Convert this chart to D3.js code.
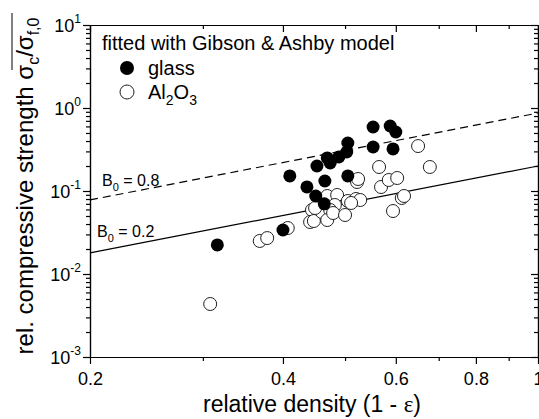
<!DOCTYPE html>
<html><head><meta charset="utf-8">
<script src="https://cdn.jsdelivr.net/npm/d3@7"></script>
<style>
body{margin:0;background:#fff}
svg{display:block}
text{font-family:"Liberation Sans",Arial,sans-serif;fill:#000}
</style>
</head><body>
<svg id="c" width="539" height="419"></svg>
<script>
// ---- data ----
const glassX = [0.316,0.400,0.410,0.436,0.450,0.464,0.465,0.452,0.469,0.489,0.474,0.505,0.503,0.505,0.553,0.553,0.588,0.600,0.594];
const glassY = [0.0224,0.0339,0.152,0.112,0.087,0.070,0.132,0.200,0.250,0.257,0.218,0.379,0.295,0.152,0.590,0.339,0.607,0.514,0.321];
const aluX = [0.308,0.368,0.378,0.407,0.444,0.441,0.447,0.460,0.469,0.486,0.482,0.474,0.469,0.479,0.500,0.505,0.520,0.522,0.528,0.511,0.569,0.565,0.585,0.603,0.613,0.618,0.594,0.650,0.678,0.524,0.449];
const aluY = [0.00435,0.0250,0.0271,0.0358,0.0590,0.0423,0.0435,0.0558,0.0871,0.0895,0.0678,0.0590,0.0447,0.0543,0.0514,0.0758,0.0801,0.1284,0.0779,0.0717,0.1117,0.1946,0.1357,0.1434,0.0824,0.0871,0.0574,0.348,0.1946,0.1395,0.0624];
const fitX = [0.2, 1];
const fitB08 = [0.078, 0.87];
const fitB02 = [0.018, 0.2];
const xMajor = [0.2, 0.4, 0.6, 0.8, 1];
const xMajorLabels = ["0.2", "0.4", "0.6", "0.8", "1"];
const xMinor = [0.3, 0.5, 0.7, 0.9];
const yExp = [-3, -2, -1, 0, 1];
const yExpLabels = ["-3", "-2", "-1", "0", "1"];
const legendTitle = "fitted with Gibson & Ashby model";
const seriesNames = ["glass", "Al2O3"];

// ---- layout ----
const L = 90, R = 538, T = 25, B = 357;
const svg = d3.select("#c");
const x = d3.scaleLog().domain([0.2, 1]).range([L, R]);
const y = d3.scaleLog().domain([1e-3, 10]).range([B, T]);

const yMajor = yExp.map(e => Math.pow(10, e));
const yMinor = [];
yExp.slice(0, -1).forEach(e => { for (let k = 2; k <= 9; k++) yMinor.push(k * Math.pow(10, e)); });

function styleAxis(g) {
  g.selectAll("path.domain").attr("stroke", "#000").attr("stroke-width", 1.2);
  g.selectAll(".tick line").attr("stroke", "#000").attr("stroke-width", 1.2);
}

// bottom
svg.append("g").attr("transform", `translate(0,${B})`)
  .call(d3.axisBottom(x).tickValues(xMajor).tickSize(7).tickSizeOuter(0).tickPadding(8)
    .tickFormat((d, i) => xMajorLabels[i]))
  .call(styleAxis)
  .call(g => g.selectAll("text").attr("font-size", 18).attr("font-family", "Liberation Sans, Arial, sans-serif"));
svg.append("g").attr("transform", `translate(0,${B})`)
  .call(d3.axisBottom(x).tickValues(xMinor).tickSize(4).tickSizeOuter(0).tickFormat(""))
  .call(styleAxis);
// top
svg.append("g").attr("transform", `translate(0,${T})`)
  .call(d3.axisTop(x).tickValues(xMajor).tickSize(-7).tickSizeOuter(0).tickFormat(""))
  .call(styleAxis);
svg.append("g").attr("transform", `translate(0,${T})`)
  .call(d3.axisTop(x).tickValues(xMinor).tickSize(-4).tickSizeOuter(0).tickFormat(""))
  .call(styleAxis);
// left
svg.append("g").attr("transform", `translate(${L},0)`)
  .call(d3.axisLeft(y).tickValues(yMajor).tickSize(7).tickSizeOuter(0).tickFormat(""))
  .call(styleAxis);
svg.append("g").attr("transform", `translate(${L},0)`)
  .call(d3.axisLeft(y).tickValues(yMinor).tickSize(4).tickSizeOuter(0).tickFormat(""))
  .call(styleAxis);
// right
svg.append("g").attr("transform", `translate(${R},0)`)
  .call(d3.axisRight(y).tickValues(yMajor).tickSize(-7).tickSizeOuter(0).tickFormat(""))
  .call(styleAxis);
svg.append("g").attr("transform", `translate(${R},0)`)
  .call(d3.axisRight(y).tickValues(yMinor).tickSize(-4).tickSizeOuter(0).tickFormat(""))
  .call(styleAxis);

// y tick labels with superscripts
yMajor.forEach((v, i) => {
  const t = svg.append("text").attr("x", L - 9).attr("y", y(v) + 7)
    .attr("text-anchor", "end").attr("font-size", 18);
  t.append("tspan").text("10");
  t.append("tspan").attr("font-size", 12).attr("dy", -9).text(yExpLabels[i]);
});

// fit lines
const line = d3.line().x(d => x(d[0])).y(d => y(d[1]));
svg.append("path").datum(fitX.map((v, i) => [v, fitB08[i]])).attr("d", line)
  .attr("fill", "none").attr("stroke", "#000").attr("stroke-width", 1.2).attr("stroke-dasharray", "8,5");
svg.append("path").datum(fitX.map((v, i) => [v, fitB02[i]])).attr("d", line)
  .attr("fill", "none").attr("stroke", "#000").attr("stroke-width", 1.2);

// points
svg.append("g").selectAll("circle").data(aluX.map((v, i) => [v, aluY[i]])).join("circle")
  .attr("cx", d => x(d[0])).attr("cy", d => y(d[1])).attr("r", 6.5)
  .attr("fill", "#fff").attr("stroke", "#222").attr("stroke-width", 1);
svg.append("g").selectAll("circle").data(glassX.map((v, i) => [v, glassY[i]])).join("circle")
  .attr("cx", d => x(d[0])).attr("cy", d => y(d[1])).attr("r", 6.5)
  .attr("fill", "#000");

// line labels
function bLabel(xp, yp, val) {
  const t = svg.append("text").attr("x", xp).attr("y", yp).attr("font-size", 16);
  t.append("tspan").text("B");
  t.append("tspan").attr("font-size", 11).attr("dy", 5).text("0");
  t.append("tspan").attr("dy", -5).text(" = " + val);
}
bLabel(102, 186, "0.8");
bLabel(97, 237, "0.2");

// legend
svg.append("text").attr("x", 102).attr("y", 50).attr("font-size", 20).text(legendTitle);
svg.append("circle").attr("cx", 127).attr("cy", 68).attr("r", 7).attr("fill", "#000");
svg.append("text").attr("x", 148).attr("y", 75).attr("font-size", 20).text(seriesNames[0]);
svg.append("circle").attr("cx", 127).attr("cy", 92).attr("r", 7).attr("fill", "#fff").attr("stroke", "#222").attr("stroke-width", 1);
const al = svg.append("text").attr("x", 148).attr("y", 99).attr("font-size", 20);
al.append("tspan").text("Al");
al.append("tspan").attr("font-size", 14).attr("dy", 6).text("2");
al.append("tspan").attr("dy", -6).text("O");
al.append("tspan").attr("font-size", 14).attr("dy", 6).text("3");

// axis titles
const xt = svg.append("text").attr("x", 312).attr("y", 412).attr("text-anchor", "middle").attr("font-size", 23);
xt.append("tspan").text("relative density (1 - ");
xt.append("tspan").attr("font-family", "Liberation Serif, serif").text("ε");
xt.append("tspan").text(")");

const yt = svg.append("text").attr("transform", "translate(33,186) rotate(-90)")
  .attr("text-anchor", "middle").attr("font-size", 24);
yt.append("tspan").text("rel. compressive strength σ");
yt.append("tspan").attr("font-size", 16).attr("dy", 6).text("c");
yt.append("tspan").attr("dy", -6).text("/σ");
yt.append("tspan").attr("font-size", 16).attr("dy", 6).text("f,0");
svg.append("line").attr("x1", 12).attr("x2", 12).attr("y1", 13).attr("y2", 70).attr("stroke", "#000").attr("stroke-width", 1);
</script>
</body></html>
